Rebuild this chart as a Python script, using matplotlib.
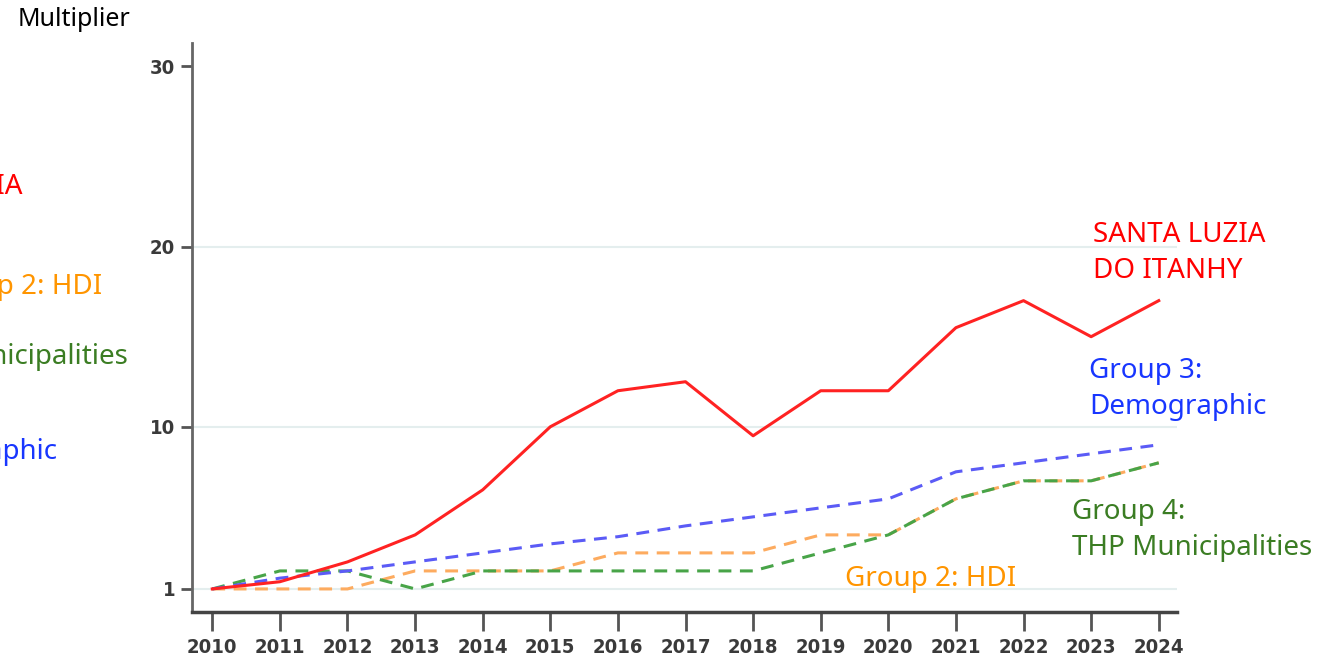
import matplotlib
matplotlib.use("Agg")
import matplotlib.pyplot as plt

# data
years = list(range(2010, 2025))
santa_luzia = [1, 1.4, 2.5, 4, 6.5, 10, 12, 12.5, 9.5, 12, 12, 15.5, 17, 15, 17]
group2_hdi = [1, 1, 1, 2, 2, 2, 3, 3, 3, 4, 4, 6, 7, 7, 8]
group3_demo = [1, 1.6, 2, 2.5, 3, 3.5, 3.9, 4.5, 5, 5.5, 6, 7.5, 8, 8.5, 9]
group4_thp = [1, 2, 2, 1, 2, 2, 2, 2, 2, 3, 4, 6, 7, 7, 8]
y_ticks = [1, 10, 20, 30]
grid_levels = [1, 10, 20]

W, H = 1342, 660
fig = plt.figure(figsize=(W / 100, H / 100), dpi=100)
ax = fig.add_axes([192 / W, 48 / H, (1177 - 192) / W, (612 - 43) / H])

for lvl in grid_levels:
    ax.axhline(lvl, color="#e4eeee", lw=1.5, zorder=0)

dash = (0, (4.2, 2.8))
ax.plot(years, group2_hdi, color="#fdab5f", lw=2.2, linestyle=dash, zorder=2)
ax.plot(years, group4_thp, color="#48a448", lw=2.2, linestyle=dash, zorder=3)
ax.plot(years, group3_demo, color="#5b5bf6", lw=2.2, linestyle=dash, zorder=3)
ax.plot(years, santa_luzia, color="#ff2222", lw=2.2, zorder=4)

ax.set_xlim(2009.7, 2024.27)
ax.set_ylim(-0.28, 31.3)
ax.set_xticks(years)
ax.set_yticks(y_ticks)

tick_font = dict(family="DejaVu Sans", stretch="condensed", size=14.5,
                 weight="bold", color="#3a3a3a")
ax.set_xticklabels([str(y) for y in years], **tick_font)
ax.set_yticklabels([str(v) for v in y_ticks], **tick_font)
ax.tick_params(axis="both", colors="#555555", width=2, length=8, pad=4,
               labelcolor="#3a3a3a")
ax.tick_params(axis="x", length=14, pad=5)

for side in ["top", "right"]:
    ax.spines[side].set_visible(False)
ax.spines["left"].set_color("#666666")
ax.spines["left"].set_linewidth(2)
ax.spines["bottom"].set_color("#444444")
ax.spines["bottom"].set_linewidth(2.5)

lbl = dict(family=["Noto Sans", "DejaVu Sans"], size=20, va="center")

fig.text(18 / W, 1 - 20 / H, "Multiplier", color="black", ha="left",
         **dict(lbl, size=18))

# labels on the right of the lines
fig.text(1093 / W, 1 - 253 / H, "SANTA LUZIA\nDO ITANHY", color="#ff0000",
         ha="left", linespacing=1.38, **lbl)
fig.text(1089 / W, 1 - 389 / H, "Group 3:\nDemographic", color="#1836ff",
         ha="left", linespacing=1.38, **lbl)
fig.text(1072 / W, 1 - 530 / H, "Group 4:\nTHP Municipalities", color="#3b7d23",
         ha="left", linespacing=1.38, **lbl)
fig.text(845 / W, 1 - 579 / H, "Group 2: HDI", color="#ff9500", ha="left", **lbl)

# clipped copies at the left edge (cut off in the reference too)
fig.text(22 / W, 1 - 187 / H, "SANTA LUZIA", color="#ff0000", ha="right", **lbl)
fig.text(102 / W, 1 - 287 / H, "Group 2: HDI", color="#ff9500", ha="right", **lbl)
fig.text(128 / W, 1 - 357 / H, "Group 4: THP Municipalities", color="#3b7d23",
         ha="right", **lbl)
fig.text(57 / W, 1 - 452 / H, "Group 3: Demographic", color="#1836ff", ha="right",
         **lbl)

fig.savefig("out.png", dpi=100)
